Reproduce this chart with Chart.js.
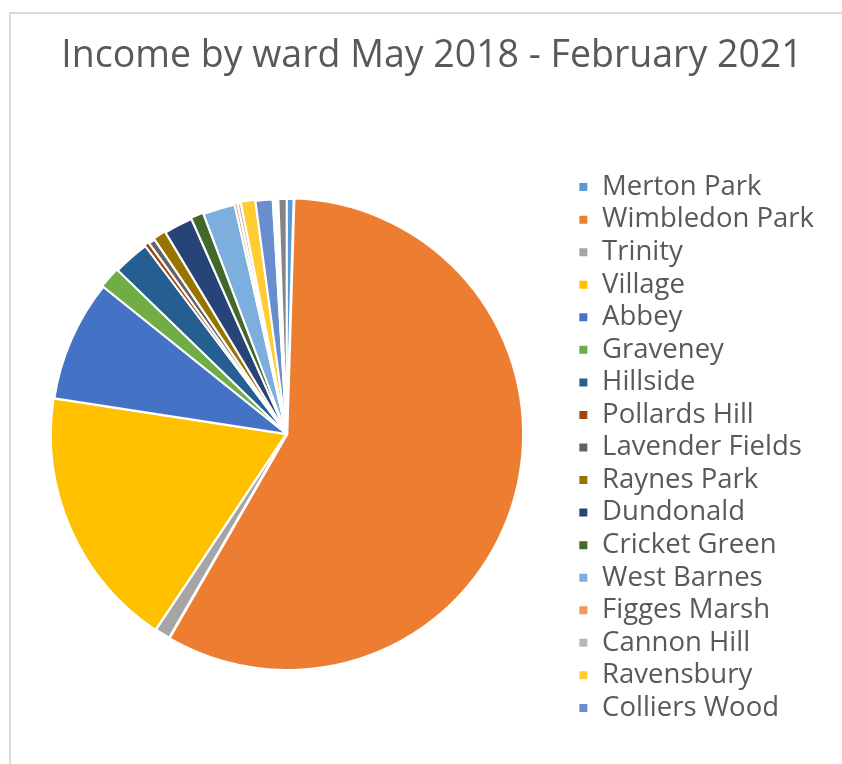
<!DOCTYPE html>
<html>
<head>
<meta charset="utf-8">
<script src="https://cdn.jsdelivr.net/npm/chart.js@4"></script>
<style>
  html, body { margin: 0; padding: 0; background: #fff; }
  #frame { position: absolute; left: 9px; top: 12px; width: 900px; height: 800px; border-left: 2px solid #d9d9d9; border-top: 2px solid #d9d9d9; }
  #wrap { position: absolute; left: 0; top: 0; width: 842px; height: 764px; }
</style>
</head>
<body>
<div id="frame"></div>
<div id="wrap"><canvas id="wardChart"></canvas></div>
<script>
const chartTitle = "Income by ward May 2018 - February 2021";
// share of income per ward (%)
const wards = ["Merton Park", "Wimbledon Park", "Trinity", "Village", "Abbey", "Graveney", "Hillside",
  "Pollards Hill", "Lavender Fields", "Raynes Park", "Dundonald", "Cricket Green", "West Barnes",
  "Figges Marsh", "Cannon Hill", "Ravensbury", "Colliers Wood"];
const wardShare = [0.47, 57.86, 1.03, 18.06, 8.33, 1.5, 2.47, 0.33, 0.44, 0.89, 1.97, 0.89, 2.19,
  0.22, 0.22, 1.0, 1.17];
// slices whose names did not fit in the legend
const unlistedShare = [0.13, 0.13, 0.13, 0.56];
const wardColours = ["#5B9BD5", "#ED7D31", "#A5A5A5", "#FFC000", "#4472C4", "#70AD47", "#255E91",
  "#9E480E", "#636363", "#997300", "#264478", "#43682B", "#7CAFDD", "#F1975A", "#B7B7B7",
  "#FFCD33", "#698ED0", "#8CC168", "#327DC2", "#D26012", "#848484"];

// title is centred on the whole frame, not on the space left of the legend
const frameTitle = {
  id: "frameTitle",
  afterDraw(chart) {
    const c = chart.ctx;
    c.save();
    c.font = "37.5px 'Open Sans'";
    c.fillStyle = "#595959";
    c.textAlign = "center";
    c.textBaseline = "middle";
    c.fillText(chartTitle, 432, 56.5);
    c.restore();
  },
};

document.addEventListener("DOMContentLoaded", function () {
  const ctx = document.getElementById("wardChart").getContext("2d");
  const wardChart = new Chart(ctx, {
    type: "pie",
    data: {
      labels: wards,
      datasets: [
        {
          data: wardShare.concat(unlistedShare),
          backgroundColor: wardColours,
          borderColor: "#ffffff",
          borderWidth: 2,
          radius: 235,
          offset: [0, 3],
        },
      ],
    },
    plugins: [frameTitle],
    options: {
      responsive: true,
      maintainAspectRatio: false,
      animation: false,
      layout: {
        padding: { left: 0, right: 18, top: 122, bottom: 18 },
      },
      plugins: {
        title: { display: false },
        legend: {
          position: "right",
          fullSize: false,
          // empty title only nudges the list down a little
          title: { display: true, text: " ", font: { size: 10, lineHeight: 1 }, padding: 8.5 },
          labels: {
            color: "#595959",
            font: { family: "Open Sans", size: 27.5 },
            boxWidth: 10,
            boxHeight: 10,
            padding: 5.05,
          },
        },
        tooltip: { enabled: false },
      },
    },
  });
});
</script>
</body>
</html>
